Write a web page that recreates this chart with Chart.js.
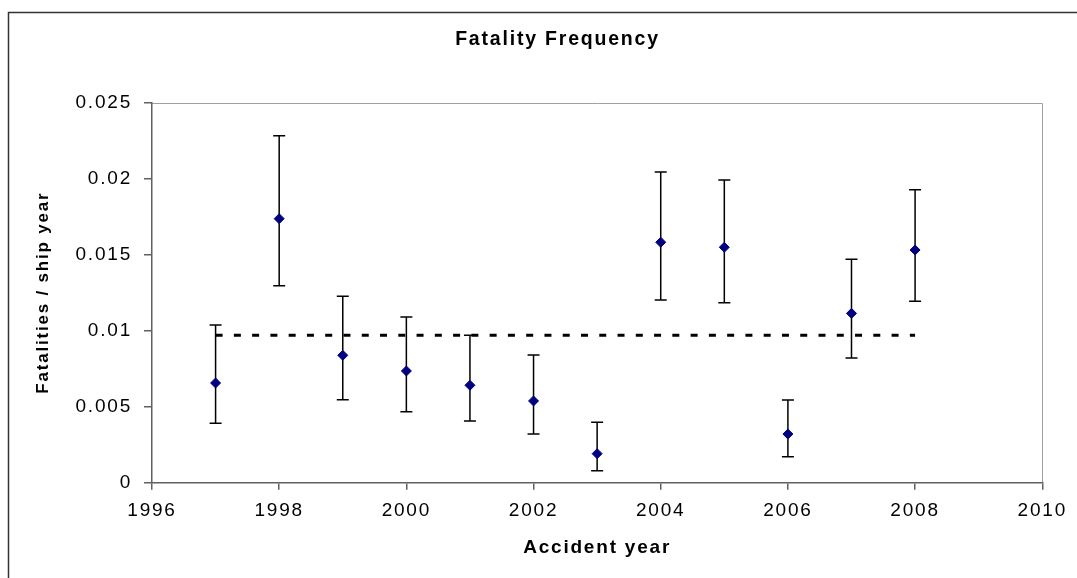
<!DOCTYPE html>
<html>
<head>
<meta charset="utf-8">
<script src="https://cdn.jsdelivr.net/npm/chart.js@4.4.1/dist/chart.umd.min.js"></script>
<style>
  html, body { margin: 0; padding: 0; background: #ffffff; }
  #wrap { width: 1077px; height: 578px; position: relative; }
  canvas { display: block; }
</style>
</head>
<body>
<div id="wrap"><canvas id="c" width="1077" height="578"></canvas></div>
<script>
// ---- data ----
const years = [1997, 1998, 1999, 2000, 2001, 2002, 2003, 2004, 2005, 2006, 2007, 2008];
const fatalityFreq = [0.00656, 0.01737, 0.00838, 0.00735, 0.00641, 0.00538, 0.00191, 0.01582, 0.01549, 0.00320, 0.01114, 0.01531];
const upperBound = [0.01037, 0.02283, 0.01226, 0.01090, 0.00970, 0.00840, 0.00397, 0.02044, 0.01991, 0.00544, 0.01470, 0.01928];
const lowerBound = [0.00391, 0.01296, 0.00545, 0.00467, 0.00406, 0.00320, 0.00079, 0.01202, 0.01184, 0.00171, 0.00820, 0.01193];
const meanYears = [1997, 2008];
const meanValue = [0.0097, 0.0097];
const xTickLabels = ['1996', '1998', '2000', '2002', '2004', '2006', '2008', '2010'];
const yTickLabels = ['0', '0.005', '0.01', '0.015', '0.02', '0.025'];
const chartTitle = 'Fatality Frequency';
const xTitle = 'Accident year';
const yTitle = 'Fatalities / ship year';

const FONT = "'Liberation Sans', Arial, sans-serif";

function lookupLabel(labels, v) {
  for (const l of labels) { if (Math.abs(Number(l) - v) < 1e-9) return l; }
  return '';
}

const spacingPlugin = {
  id: 'spacing',
  beforeLayout(chart) { chart.ctx.letterSpacing = '1.8px'; },
  beforeDraw(chart) { chart.ctx.letterSpacing = '1.8px'; }
};

const titleShift = {
  id: 'titleShift',
  afterLayout(chart) {
    const t = chart.titleBlock;
    if (t) { t.left += 31; t.right += 31; }
  }
};

const framePlugin = {
  id: 'frame',
  beforeDraw(chart) {
    const ctx = chart.ctx;
    ctx.save();
    ctx.strokeStyle = '#333333';
    ctx.lineWidth = 1.5;
    ctx.beginPath();
    ctx.moveTo(8.5, 578);
    ctx.lineTo(8.5, 12.5);
    ctx.lineTo(1077, 12.5);
    ctx.stroke();
    const a = chart.chartArea;
    ctx.strokeStyle = '#a0a0a0';
    ctx.lineWidth = 1;
    ctx.beginPath();
    ctx.moveTo(a.left, Math.round(a.top) + 0.5);
    ctx.lineTo(Math.round(a.right) + 0.5, Math.round(a.top) + 0.5);
    ctx.lineTo(Math.round(a.right) + 0.5, a.bottom);
    ctx.stroke();
    ctx.restore();
  }
};

const errorBars = {
  id: 'errorBars',
  beforeDatasetsDraw(chart) {
    const ctx = chart.ctx;
    const xs = chart.scales.x, ys = chart.scales.y;
    ctx.save();
    ctx.strokeStyle = '#000000';
    ctx.lineWidth = 1.5;
    const cap = 6;
    for (let i = 0; i < years.length; i++) {
      const px = xs.getPixelForValue(years[i]);
      const pt = ys.getPixelForValue(upperBound[i]);
      const pb = ys.getPixelForValue(lowerBound[i]);
      ctx.beginPath();
      ctx.moveTo(px, pt); ctx.lineTo(px, pb);
      ctx.moveTo(px - cap, pt); ctx.lineTo(px + cap, pt);
      ctx.moveTo(px - cap, pb); ctx.lineTo(px + cap, pb);
      ctx.stroke();
    }
    ctx.restore();
  }
};

new Chart(document.getElementById('c'), {
  type: 'scatter',
  data: {
    datasets: [
      {
        label: 'Mean',
        type: 'line',
        data: meanYears.map((x, i) => ({ x: x, y: meanValue[i] })),
        borderColor: '#000000',
        borderWidth: 3,
        borderDash: [7, 11.27],
        pointRadius: 0,
        fill: false,
        order: 2
      },
      {
        label: 'Fatality frequency',
        data: years.map((x, i) => ({ x: x, y: fatalityFreq[i] })),
        pointStyle: 'rectRot',
        pointRadius: 5,
        pointHoverRadius: 5,
        backgroundColor: '#000080',
        borderColor: '#000080',
        borderWidth: 1,
        showLine: false,
        order: 1
      }
    ]
  },
  options: {
    responsive: false,
    animation: false,
    devicePixelRatio: 1,
    layout: { padding: { left: 8, right: 32, top: 0, bottom: 0 } },
    plugins: {
      legend: { display: false },
      tooltip: { enabled: false },
      title: {
        display: true,
        text: chartTitle,
        color: '#000000',
        font: { family: FONT, size: 19.5, weight: 'bold' },
        padding: { top: 28, bottom: 51.3 }
      }
    },
    scales: {
      x: {
        type: 'linear',
        min: 1996, max: 2010,
        afterFit(s) { s.height = 95.3; },
        ticks: {
          stepSize: 2,
          color: '#000000',
          padding: 10,
          font: { family: FONT, size: 19 },
          maxRotation: 0,
          callback: (v) => lookupLabel(xTickLabels, v)
        },
        grid: { display: true, drawOnChartArea: false, drawTicks: true, tickLength: 7, color: '#606060', lineWidth: 1.5 },
        border: { display: true, color: '#606060', width: 1.5 },
        title: {
          display: true, text: xTitle, color: '#000000',
          font: { family: FONT, size: 19, weight: 'bold' },
          padding: { top: 0, bottom: 19 }
        }
      },
      y: {
        type: 'linear',
        min: 0, max: 0.025,
        afterFit(s) { s.width = 144; },
        ticks: {
          stepSize: 0.005,
          color: '#000000',
          padding: 12,
          font: { family: FONT, size: 19 },
          callback: (v) => lookupLabel(yTickLabels, v)
        },
        grid: { display: true, drawOnChartArea: false, drawTicks: true, tickLength: 8, color: '#606060', lineWidth: 1.5 },
        border: { display: true, color: '#606060', width: 1.5 },
        title: {
          display: true, text: yTitle, color: '#000000',
          font: { family: FONT, size: 17, weight: 'bold' },
          padding: { top: 25, bottom: 0 }
        }
      }
    }
  },
  plugins: [spacingPlugin, titleShift, framePlugin, errorBars]
});
</script>
</body>
</html>
